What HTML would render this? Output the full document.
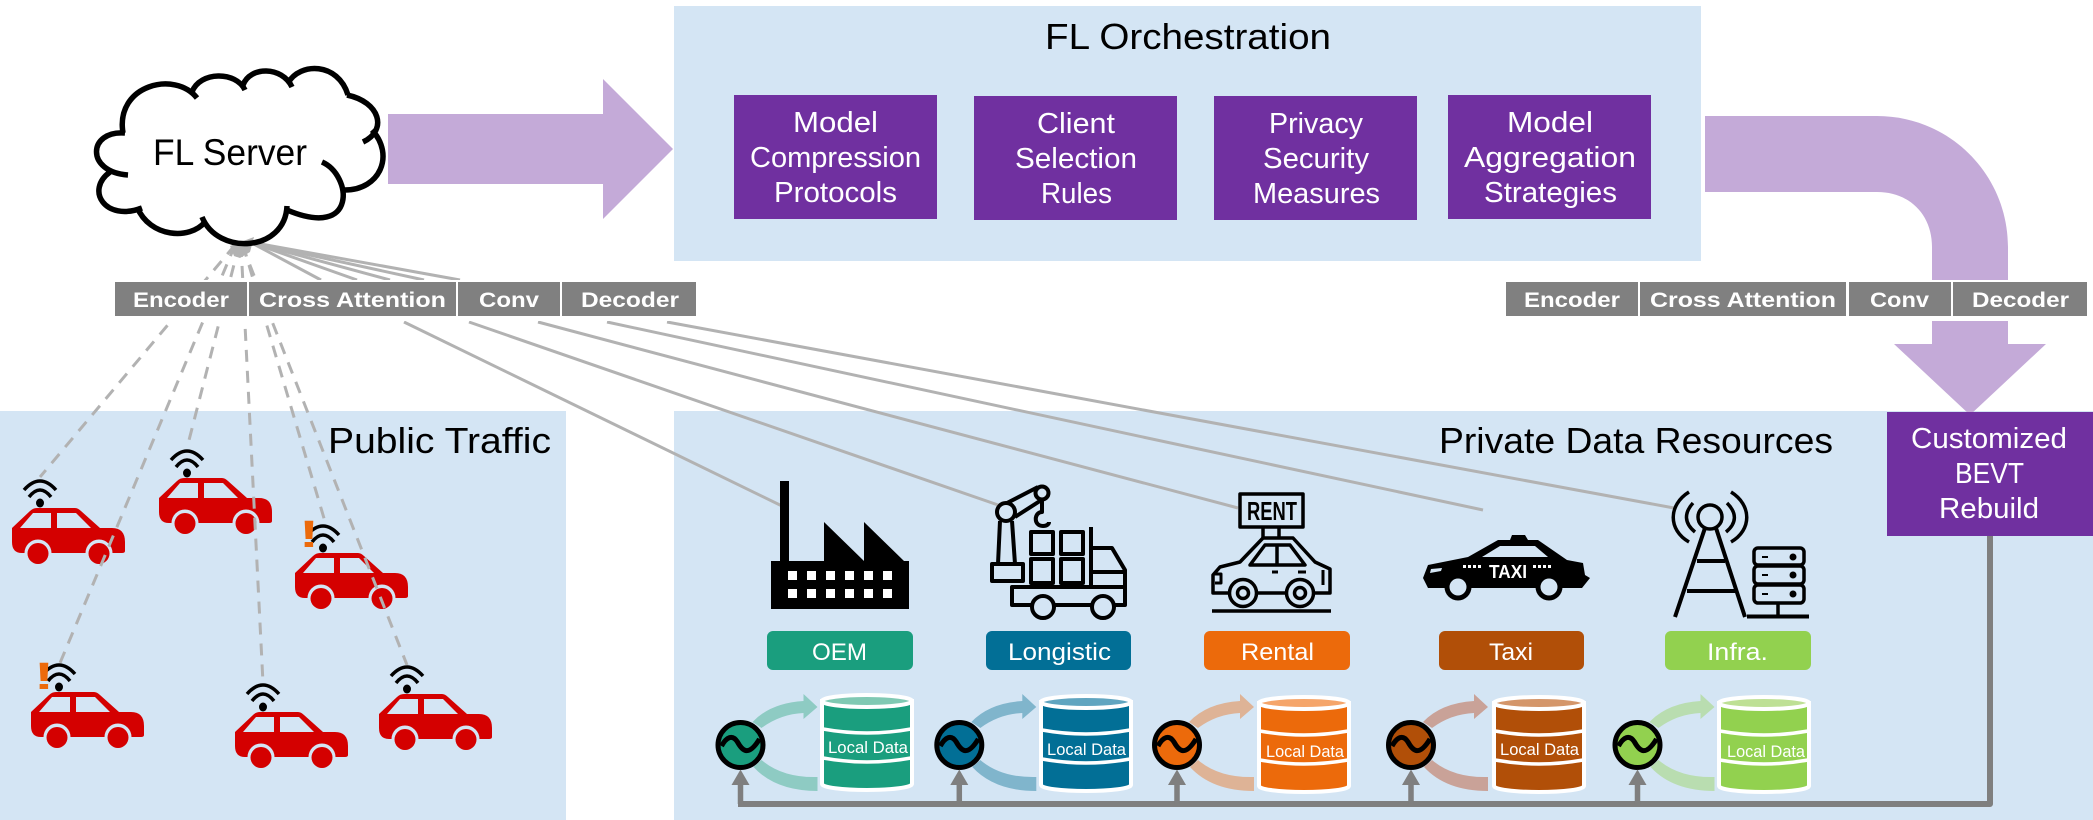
<!DOCTYPE html>
<html><head><meta charset="utf-8"><style>
html,body{margin:0;padding:0;background:#fff}
svg{display:block}
text{font-family:"Liberation Sans",sans-serif}
</style></head><body>
<svg width="2093" height="820" viewBox="0 0 2093 820" xmlns="http://www.w3.org/2000/svg">
<defs>
<g id="car">
<path d="M0 20L18 3Q21 0 25 0H63Q66 0 69 3L88 20H100Q113 20 113 34V43Q113 45 110 45H10Q0 45 0 34Z" fill="#d40000"/>
<path d="M8 20L21 5H39V20ZM45 20V5H64L79 20Z" fill="#d4e5f4"/>
<circle cx="26" cy="45" r="13.500" fill="#d4e5f4"/><circle cx="87" cy="45" r="13.500" fill="#d4e5f4"/>
<rect x="10" y="46" width="95" height="14" fill="#d4e5f4"/>
<circle cx="26" cy="45.500" r="10.500" fill="#d40000"/><circle cx="87" cy="45.500" r="10.500" fill="#d40000"/>
<ellipse cx="28" cy="-5" rx="4" ry="4.500" fill="#000"/>
<path d="M17-11Q28-25 39-11M12-18Q28-36 44-18" fill="none" stroke="#000" stroke-width="3.500"/>
</g>
<g id="cyl">
<path d="M2 8V91A45 6 0 0 0 92 91V8Z" style="fill:var(--m)" stroke="#fff" stroke-width="4"/>
<ellipse cx="47" cy="8" rx="45" ry="6" style="fill:var(--l)" stroke="#fff" stroke-width="4"/>
<path d="M3 36Q47 44 91 36M3 65Q47 73 91 65" fill="none" stroke="#fff" stroke-width="3.500"/>
</g>
<g id="spin">
<path d="M12-23Q30-42 63-44V-51L77-38L63-26V-32Q40-31 21-17Z" style="fill:var(--a)"/>
<path d="M13 22Q35 46 77 46V32Q42 33 21 15Z" style="fill:var(--a)"/>
<circle r="22.500" style="fill:var(--m)" stroke="#000" stroke-width="5"/>
<path d="M-19 1C-14-8-8-11-3-3C2 6 8 12 19-6" fill="none" stroke="#000" stroke-width="5"/>
<path d="M0 30V59" stroke="#7f7f7f" stroke-width="5.500"/>
<path d="M-9 40L0 24.500L9 40Z" fill="#7f7f7f"/>
</g>
</defs>

<rect width="2093" height="820" fill="#fff"/>
<rect x="674" y="6" width="1027" height="255" fill="#d4e5f4"/>
<rect x="0" y="411" width="566" height="409" fill="#d4e5f4"/>
<rect x="674" y="411" width="1419" height="409" fill="#d4e5f4"/>

<!-- cars -->
<use href="#car" x="12" y="508"/>
<use href="#car" x="159" y="478"/>
<use href="#car" x="295" y="553"/>
<use href="#car" x="31" y="692"/>
<use href="#car" x="235" y="712"/>
<use href="#car" x="379" y="694"/>
<text x="299" y="547" font-size="38" font-weight="bold" fill="#ec6a0b" textLength="20" lengthAdjust="spacingAndGlyphs">!</text>
<text x="34" y="689" font-size="38" font-weight="bold" fill="#ec6a0b" textLength="20" lengthAdjust="spacingAndGlyphs">!</text>

<!-- connectors -->
<g fill="none" stroke="#b2b2b2" stroke-width="3">
<g stroke-dasharray="12 9">
<path d="M235 245L40 477"/><path d="M235 245L60 663"/><path d="M239 245L187 448"/>
<path d="M241 245L263 683"/><path d="M243 245L326 525"/><path d="M242 245L407 665"/>
</g>
<path d="M404 322L782 506"/><path d="M469 322L1001 506"/><path d="M538 322L1238 508"/>
<path d="M607 322L1483 510"/><path d="M667 322L1674 508"/>
<path d="M250 242L321 280"/><path d="M250 242L357 280"/><path d="M250 242L390 280"/><path d="M250 242L424 280"/><path d="M250 242L460 280"/>
</g>
<path d="M230 246L254 237L250 252L240 258L234 256Z" fill="#b2b2b2"/>

<!-- big arrows -->
<path d="M388 114H603V79L673 149L603 219V184H388Z" fill="#c4aad8"/>
<path d="M1705 116H1877C1950 116 2008 175 2008 247V344H2046L1970 415L1894 344H1932V247C1932 215 1910 192 1877 192H1705Z" fill="#c4aad8"/>

<!-- white bands -->
<rect x="100" y="280" width="610" height="41" fill="#fff"/>
<rect x="1500" y="280" width="593" height="41" fill="#fff"/>

<!-- bars -->
<g fill="#808080">
<rect x="115" y="282" width="132" height="34"/><rect x="249" y="282" width="207" height="34"/>
<rect x="458" y="282" width="102" height="34"/><rect x="562" y="282" width="134" height="34"/>
<rect x="1506" y="282" width="132" height="34"/><rect x="1640" y="282" width="206" height="34"/>
<rect x="1849" y="282" width="102" height="34"/><rect x="1953" y="282" width="134" height="34"/>
</g>
<g fill="#fff" font-size="21" font-weight="bold">
<text x="133" y="307" textLength="96" lengthAdjust="spacingAndGlyphs">Encoder</text>
<text x="259" y="307" textLength="187" lengthAdjust="spacingAndGlyphs">Cross Attention</text>
<text x="479" y="307" textLength="60" lengthAdjust="spacingAndGlyphs">Conv</text>
<text x="581" y="307" textLength="98" lengthAdjust="spacingAndGlyphs">Decoder</text>
<text x="1524" y="307" textLength="96" lengthAdjust="spacingAndGlyphs">Encoder</text>
<text x="1650" y="307" textLength="186" lengthAdjust="spacingAndGlyphs">Cross Attention</text>
<text x="1870" y="307" textLength="59" lengthAdjust="spacingAndGlyphs">Conv</text>
<text x="1972" y="307" textLength="97" lengthAdjust="spacingAndGlyphs">Decoder</text>
</g>

<!-- cloud -->
<g fill="none" stroke="#000" stroke-width="5.500">
<path d="M125 133C88 130 85 172 128 175"/>
<path d="M123 133C115 85 175 70 197 98"/>
<path d="M192 92C200 71 236 71 245 90"/>
<path d="M243 85C250 66 282 66 292 87"/>
<path d="M288 83C300 62 338 62 348 95"/>
<path d="M347 95C380 102 388 130 363 142"/>
<path d="M372 130C395 155 380 190 345 190"/>
<path d="M322 162C352 175 358 240 287 210"/>
<path d="M287 206C285 252 218 256 202 217"/>
<path d="M205 222C190 240 150 238 137 207"/>
<path d="M142 208C105 222 85 190 110 172"/>
</g>
<text x="153" y="165" font-size="37" textLength="154" lengthAdjust="spacingAndGlyphs">FL Server</text>

<!-- orchestration -->
<text x="1045" y="49" font-size="36" textLength="286" lengthAdjust="spacingAndGlyphs">FL Orchestration</text>
<g fill="#7030a0">
<rect x="734" y="95" width="203" height="124"/><rect x="974" y="96" width="203" height="124"/>
<rect x="1214" y="96" width="203" height="124"/><rect x="1448" y="95" width="203" height="124"/>
<rect x="1887" y="412" width="206" height="124"/>
</g>
<g fill="#fff" font-size="29">
<text x="793" y="132" textLength="85" lengthAdjust="spacingAndGlyphs">Model</text>
<text x="750" y="167" textLength="171" lengthAdjust="spacingAndGlyphs">Compression</text>
<text x="774" y="202" textLength="123" lengthAdjust="spacingAndGlyphs">Protocols</text>
<text x="1037" y="133" textLength="78" lengthAdjust="spacingAndGlyphs">Client</text>
<text x="1015" y="168" textLength="122" lengthAdjust="spacingAndGlyphs">Selection</text>
<text x="1041" y="203" textLength="71" lengthAdjust="spacingAndGlyphs">Rules</text>
<text x="1269" y="133" textLength="94" lengthAdjust="spacingAndGlyphs">Privacy</text>
<text x="1263" y="168" textLength="106" lengthAdjust="spacingAndGlyphs">Security</text>
<text x="1253" y="203" textLength="127" lengthAdjust="spacingAndGlyphs">Measures</text>
<text x="1507" y="132" textLength="86" lengthAdjust="spacingAndGlyphs">Model</text>
<text x="1464" y="167" textLength="172" lengthAdjust="spacingAndGlyphs">Aggregation</text>
<text x="1484" y="202" textLength="133" lengthAdjust="spacingAndGlyphs">Strategies</text>
<text x="1911" y="448" textLength="156" lengthAdjust="spacingAndGlyphs">Customized</text>
<text x="1955" y="483" textLength="69" lengthAdjust="spacingAndGlyphs">BEVT</text>
<text x="1939" y="518" textLength="100" lengthAdjust="spacingAndGlyphs">Rebuild</text>
</g>
<text x="328" y="453" font-size="36" textLength="223" lengthAdjust="spacingAndGlyphs">Public Traffic</text>
<text x="1439" y="453" font-size="36" textLength="394" lengthAdjust="spacingAndGlyphs">Private Data Resources</text>

<!-- bus -->
<path d="M1990 536V804H738" fill="none" stroke="#7f7f7f" stroke-width="6" stroke-linejoin="round"/>

<!-- factory -->
<g fill="#000">
<rect x="780" y="481" width="9" height="85"/>
<path d="M771 561H824V522L864 561V522L904 561H909V609H771Z"/>
</g>
<g fill="#fff">
<rect x="788" y="571" width="9" height="9"/><rect x="807" y="571" width="9" height="9"/><rect x="826" y="571" width="9" height="9"/><rect x="845" y="571" width="9" height="9"/><rect x="864" y="571" width="9" height="9"/><rect x="883" y="571" width="9" height="9"/>
<rect x="788" y="589" width="9" height="9"/><rect x="807" y="589" width="9" height="9"/><rect x="826" y="589" width="9" height="9"/><rect x="845" y="589" width="9" height="9"/><rect x="864" y="589" width="9" height="9"/><rect x="883" y="589" width="9" height="9"/>
</g>

<!-- logistics -->
<g fill="none" stroke="#000" stroke-width="4" stroke-linejoin="round">
<circle cx="1006" cy="512" r="9"/><circle cx="1042" cy="493" r="6.500"/>
<path d="M1007 503L1038 487M1015 517L1043 499"/>
<path d="M1042 500V512C1034 512 1033 526 1043 526C1047 526 1049 524 1049 522"/>
<path d="M1000 521L998 564M1012 521L1015 564"/>
<rect x="992" y="564" width="31" height="17"/>
<rect x="1031" y="532" width="22" height="22"/><rect x="1061" y="532" width="22" height="22"/>
<rect x="1031" y="559" width="22" height="24"/><rect x="1061" y="559" width="22" height="24"/>
<path d="M1091 527V587M1091 548H1112L1125 570V605H1114M1091 572H1125"/>
<path d="M1032 605H1012V587H1125M1054 605H1092"/>
<circle cx="1043" cy="607" r="11"/><circle cx="1103" cy="607" r="11"/>
</g>

<!-- rent -->
<g fill="none" stroke="#000" stroke-width="3.500" stroke-linejoin="round">
<rect x="1240" y="494" width="63" height="33"/>
<path d="M1263 527V538M1279 527V538"/>
<path d="M1229 593H1213V575L1220 567L1240 562L1263 538H1293L1315 562L1330 569V593H1315M1257 593H1285"/>
<path d="M1250 565L1265 545H1290L1305 565ZM1277 545V565"/>
<circle cx="1243" cy="593" r="13.500"/><circle cx="1300" cy="593" r="13.500"/>
<circle cx="1243" cy="593" r="5.500"/><circle cx="1300" cy="593" r="5.500"/>
<path d="M1272 572H1278M1298 572H1306M1215 574H1221V583H1215M1323 570V585" stroke-width="3"/>
<path d="M1212 611H1331"/>
</g>
<text x="1247" y="520" font-size="26" font-weight="bold" textLength="50" lengthAdjust="spacingAndGlyphs">RENT</text>

<!-- taxi -->
<path d="M1423 578L1428 565L1468 557L1498 540H1510L1512 535H1525L1528 540H1538L1567 560L1583 563L1585 575L1590 578L1582 588H1428Z" fill="#000"/>
<path d="M1482 557L1500 546H1535L1548 557Z" fill="#d4e5f4"/>
<path d="M1431 569L1442 568L1441 571L1430 573Z" fill="#d4e5f4"/>
<circle cx="1458" cy="587" r="13.500" fill="#000"/><circle cx="1458" cy="587" r="8.500" fill="#d4e5f4"/>
<circle cx="1549" cy="587" r="13.500" fill="#000"/><circle cx="1549" cy="587" r="8.500" fill="#d4e5f4"/>
<text x="1489" y="578" font-size="18" font-weight="bold" fill="#fff" textLength="38" lengthAdjust="spacingAndGlyphs">TAXI</text>
<path d="M1463 566.500H1481M1533 566.500H1552" stroke="#fff" stroke-width="3" stroke-dasharray="3 2"/>

<!-- tower -->
<g fill="none" stroke="#000" stroke-width="3.500">
<circle cx="1710" cy="517" r="12"/>
<path d="M1705 528L1675 617M1716 528L1745 617M1697 561H1725M1687 591H1735" stroke-width="4"/>
<path d="M1693 503C1684 513 1684 523 1695 532M1727 503C1737 513 1737 523 1726 532"/>
<path d="M1689 492C1668 505 1668 530 1689 542M1731 492C1752 505 1752 530 1731 542"/>
<rect x="1754" y="548" width="50" height="17" rx="4"/>
<rect x="1754" y="566" width="50" height="18" rx="4"/>
<rect x="1754" y="585" width="50" height="18" rx="4"/>
<path d="M1778 603V616"/>
<path d="M1747 616.500H1809" stroke-width="4"/>
<path d="M1762 557H1768M1762 575H1768M1762 594H1768" stroke-width="2"/>
</g>
<circle cx="1793" cy="557" r="3.500" fill="#000"/><circle cx="1793" cy="575" r="3.500" fill="#000"/><circle cx="1793" cy="594" r="3.500" fill="#000"/>

<!-- badges -->
<rect x="767" y="631" width="146" height="39" rx="6" fill="#1a9e7e"/>
<rect x="986" y="631" width="145" height="39" rx="6" fill="#026f96"/>
<rect x="1204" y="631" width="146" height="39" rx="6" fill="#ec6a0b"/>
<rect x="1439" y="631" width="145" height="39" rx="6" fill="#b14f08"/>
<rect x="1665" y="631" width="146" height="39" rx="6" fill="#92d14f"/>
<g fill="#fff" font-size="24">
<text x="812" y="660" textLength="55" lengthAdjust="spacingAndGlyphs">OEM</text>
<text x="1008" y="660" textLength="103" lengthAdjust="spacingAndGlyphs">Longistic</text>
<text x="1241" y="660" textLength="73" lengthAdjust="spacingAndGlyphs">Rental</text>
<text x="1489" y="660" textLength="44" lengthAdjust="spacingAndGlyphs">Taxi</text>
<text x="1707" y="660" textLength="61" lengthAdjust="spacingAndGlyphs">Infra.</text>
</g>

<!-- spinners + cylinders -->
<g style="--m:#1a9e7e;--l:#80c9b3;--a:#8ecbc3"><use href="#spin" x="740.500" y="745"/><use href="#cyl" x="820" y="693"/></g>
<g style="--m:#026f96;--l:#60a5c0;--a:#80b5cc"><use href="#spin" x="959.300" y="745"/><use href="#cyl" x="1039" y="694"/></g>
<g style="--m:#ec6a0b;--l:#f5a56a;--a:#deb396"><use href="#spin" x="1177" y="745"/><use href="#cyl" x="1257" y="695"/></g>
<g style="--m:#b14f08;--l:#d4966a;--a:#c9a298"><use href="#spin" x="1411" y="745"/><use href="#cyl" x="1492" y="695"/></g>
<g style="--m:#92d14f;--l:#bee095;--a:#b9ddb0"><use href="#spin" x="1637.500" y="745"/><use href="#cyl" x="1717" y="695"/></g>
<g fill="#fff" font-size="17">
<text x="828" y="753" textLength="80" lengthAdjust="spacingAndGlyphs">Local Data</text>
<text x="1047" y="755" textLength="79" lengthAdjust="spacingAndGlyphs">Local Data</text>
<text x="1266" y="757" textLength="78" lengthAdjust="spacingAndGlyphs">Local Data</text>
<text x="1500" y="755" textLength="79" lengthAdjust="spacingAndGlyphs">Local Data</text>
<text x="1727" y="757" textLength="78" lengthAdjust="spacingAndGlyphs">Local Data</text>
</g>
</svg>
</body></html>
